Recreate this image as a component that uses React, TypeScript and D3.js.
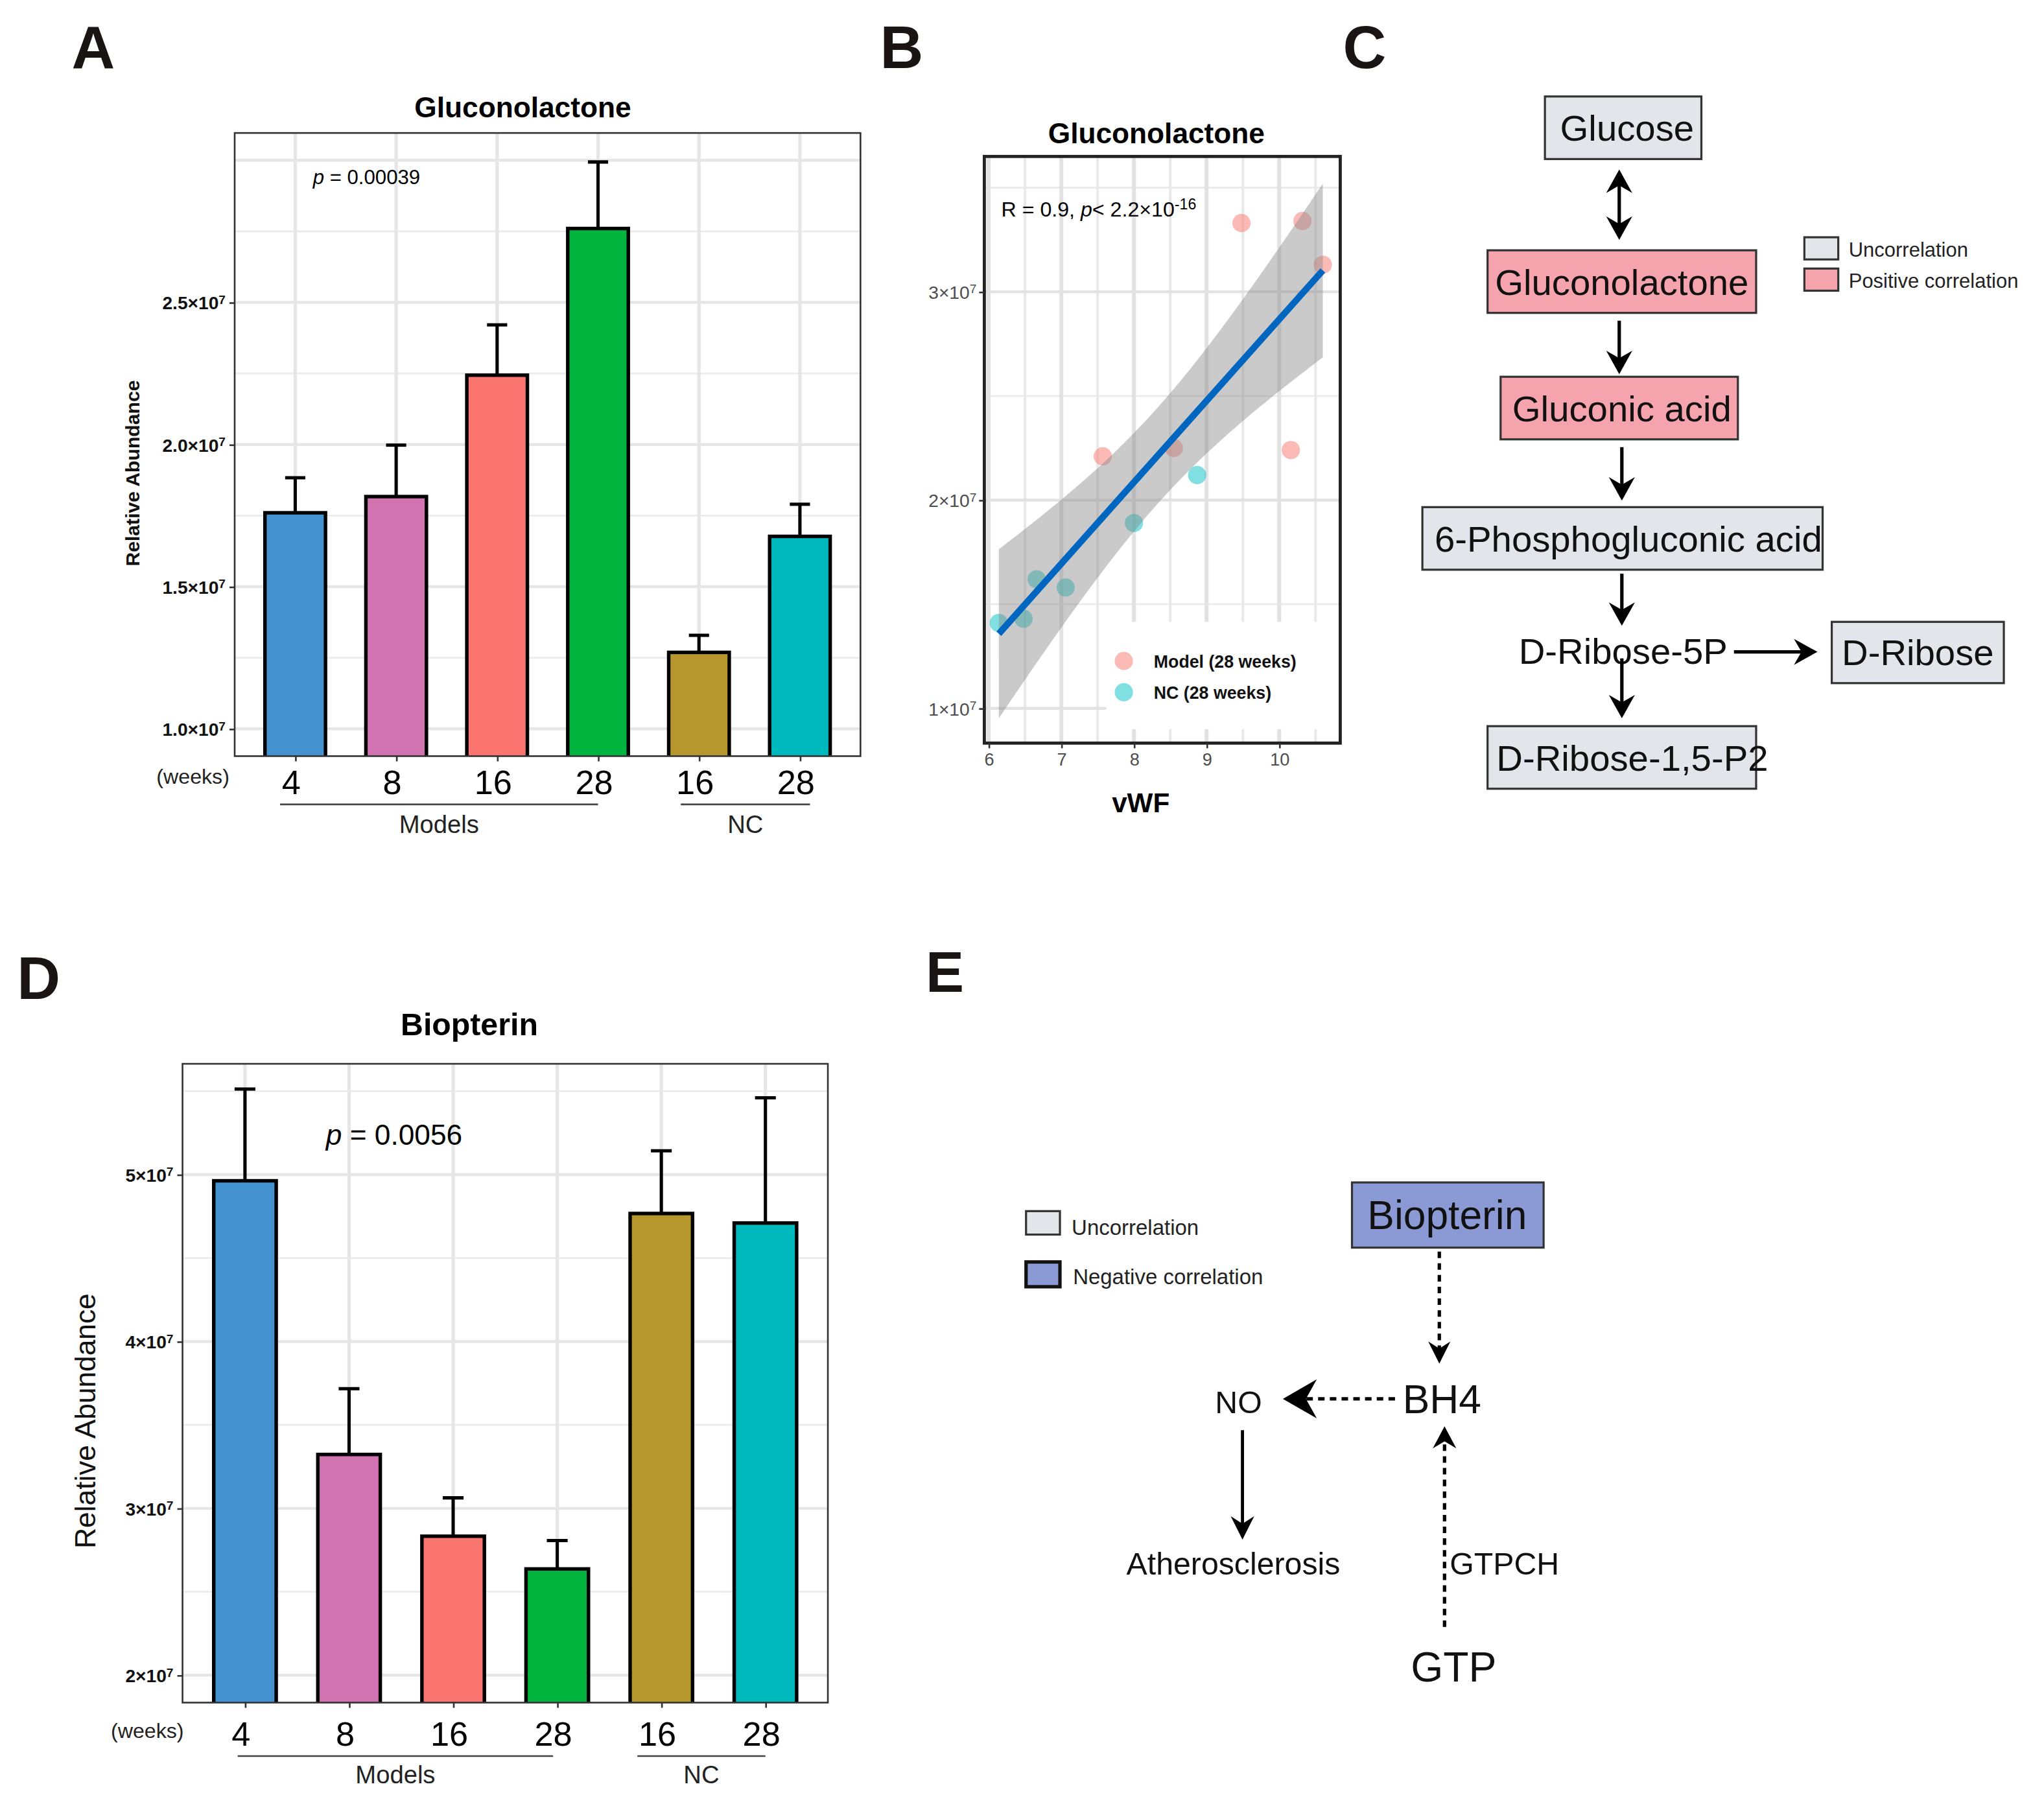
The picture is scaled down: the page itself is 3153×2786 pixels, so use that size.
import React, { useEffect, useRef } from 'react';
import * as d3 from 'd3';

// ---------- data ----------
const weekLabels = ['4', '8', '16', '28', '16', '28'];
const groups = ['Model 4w', 'Model 8w', 'Model 16w', 'Model 28w', 'NC 16w', 'NC 28w'];
const groupColors = ['#4592d0', '#d273b1', '#fa756f', '#00b43e', '#b5972e', '#00b9bd'];

const gluconolactoneMean = [1.76e7, 1.817e7, 2.244e7, 2.76e7, 1.269e7, 1.677e7];
const gluconolactoneUpper = [1.883e7, 1.998e7, 2.421e7, 2.994e7, 1.329e7, 1.79e7];
const gluconolactoneTicks = [1.0e7, 1.5e7, 2.0e7, 2.5e7];
const gluconolactoneGrid = [1.0e7, 1.5e7, 2.0e7, 2.5e7, 3.0e7];
const gluconolactoneMinor = [1.25e7, 1.75e7, 2.25e7, 2.75e7];

const biopterinMean = [4.963e7, 3.323e7, 2.833e7, 2.637e7, 4.767e7, 4.71e7];
const biopterinUpper = [5.513e7, 3.717e7, 3.063e7, 2.807e7, 5.143e7, 5.46e7];
const biopterinTicks = [2e7, 3e7, 4e7, 5e7];
const biopterinMinor = [2.5e7, 3.5e7, 4.5e7, 5.5e7];

const modelVwf = [9.48, 10.32, 10.6, 7.57, 8.55, 10.16];
const modelGluc = [3.33e7, 3.34e7, 3.13e7, 2.21e7, 2.25e7, 2.24e7];
const ncVwf = [6.14, 6.48, 6.66, 7.06, 8.0, 8.87];
const ncGluc = [1.41e7, 1.43e7, 1.62e7, 1.58e7, 1.89e7, 2.12e7];
const vwfTicks = [6, 7, 8, 9, 10];
const vwfMinor = [6.5, 7.5, 8.5, 9.5, 10.5];
const scatterYTicks = [1e7, 2e7, 3e7];
const scatterYMinor = [1.5e7, 2.5e7, 3.5e7];

const pathwayC = ['Glucose', 'Gluconolactone', 'Gluconic acid', '6-Phosphogluconic acid', 'D-Ribose-5P', 'D-Ribose', 'D-Ribose-1,5-P2'];
const pathwayCKind = ['un', 'pos', 'pos', 'un', 'none', 'un', 'un'];

// ---------- layout ----------
const VW = 1567.8;
const VH = (2786 / 3153) * VW;
const FONT = "'Liberation Sans', Arial, Helvetica, sans-serif";
const GREY_BOX = '#e3e5ea';
const PINK_BOX = '#f5a3ad';
const PURPLE_BOX = '#8b9ad4';

type Sel = d3.Selection<any, any, any, any>;

function sci(sel: Sel, v: number, digits: number) {
  sel.append('tspan').text(`${(v / 1e7).toFixed(digits)}×10`);
  sel.append('tspan').attr('dy', '-0.45em').attr('font-size', '68%').text('7');
}

function txt(g: Sel, x: number, y: number, s: string, size: number, opts: any = {}) {
  return g
    .append('text')
    .attr('x', x)
    .attr('y', y)
    .attr('font-family', FONT)
    .attr('font-size', size)
    .attr('font-weight', opts.weight ?? 'normal')
    .attr('font-style', opts.style ?? 'normal')
    .attr('text-anchor', opts.anchor ?? 'start')
    .attr('fill', opts.fill ?? '#000')
    .text(s);
}

function arrow(g: Sel, x1: number, y1: number, x2: number, y2: number, o: { L: number; W: number; dash?: string; both?: boolean; sw?: number }) {
  const ang = Math.atan2(y2 - y1, x2 - x1);
  const head = (tx: number, ty: number, a: number) => {
    const c = Math.cos(a);
    const s = Math.sin(a);
    const pt = (u: number, v: number) => [tx + u * c - v * s, ty + u * s + v * c];
    const p = [pt(0, 0), pt(-o.L, o.W / 2), pt(-o.L * 0.68, 0), pt(-o.L, -o.W / 2)];
    g.append('path').attr('d', 'M' + p.map((q) => q.join(',')).join('L') + 'Z').attr('fill', '#000');
  };
  const back = o.L * 0.6;
  const sx = o.both ? x1 + Math.cos(ang) * back : x1;
  const sy = o.both ? y1 + Math.sin(ang) * back : y1;
  g.append('line')
    .attr('x1', sx)
    .attr('y1', sy)
    .attr('x2', x2 - Math.cos(ang) * back)
    .attr('y2', y2 - Math.sin(ang) * back)
    .attr('stroke', '#000')
    .attr('stroke-width', o.sw ?? 2.4)
    .attr('stroke-dasharray', o.dash ?? null);
  head(x2, y2, ang);
  if (o.both) head(x1, y1, ang + Math.PI);
}

interface BarCfg {
  id: string;
  box: [number, number, number, number];
  domain: [number, number];
  ticks: number[];
  grid: number[];
  minor: number[];
  digits: number;
  tickFont: number;
  mean: number[];
  upper: number[];
  title: string;
  titleXY: [number, number];
  titleSize: number;
  pValue: string;
  pXY: [number, number];
  pSize: number;
  ylab: { x: number; y: number; size: number; weight: string };
  weeksY: number;
  unitXY: [number, number];
  lineY: number;
  models: [number, number];
  nc: [number, number];
  groupY: number;
}

function drawBarPanel(svg: Sel, c: BarCfg) {
  const [x0, y0, x1, y1] = c.box;
  const x = d3.scalePoint<string>().domain(groups).range([x0, x1]).padding(0.6);
  const y = d3.scaleLinear().domain(c.domain).range([y1, y0]);
  const step = x.step();
  const g = svg.append('g');

  g.append('clipPath').attr('id', c.id).append('rect').attr('x', x0).attr('y', y0).attr('width', x1 - x0).attr('height', y1 - y0);
  const inner = g.append('g').attr('clip-path', `url(#${c.id})`);

  inner.selectAll('.mn').data(c.minor).join('line')
    .attr('x1', x0).attr('x2', x1).attr('y1', (d) => y(d)).attr('y2', (d) => y(d))
    .attr('stroke', '#ebebeb').attr('stroke-width', 1.3);
  inner.selectAll('.mj').data(c.grid).join('line')
    .attr('x1', x0).attr('x2', x1).attr('y1', (d) => y(d)).attr('y2', (d) => y(d))
    .attr('stroke', '#e6e6e6').attr('stroke-width', 2.2);
  inner.selectAll('.vg').data(groups).join('line')
    .attr('x1', (d) => x(d)!).attr('x2', (d) => x(d)!).attr('y1', y0).attr('y2', y1)
    .attr('stroke', '#e6e6e6').attr('stroke-width', 2.6);

  const data = groups.map((k, i) => ({ k, m: c.mean[i], u: c.upper[i], col: groupColors[i] }));
  const eb = inner.selectAll('.eb').data(data).join('g');
  eb.append('line')
    .attr('x1', (d) => x(d.k)!).attr('x2', (d) => x(d.k)!)
    .attr('y1', (d) => y(d.m)).attr('y2', (d) => y(d.u))
    .attr('stroke', '#000').attr('stroke-width', 2.5);
  eb.append('line')
    .attr('x1', (d) => x(d.k)! - 0.1 * step).attr('x2', (d) => x(d.k)! + 0.1 * step)
    .attr('y1', (d) => y(d.u)).attr('y2', (d) => y(d.u))
    .attr('stroke', '#000').attr('stroke-width', 2.5);
  inner.selectAll('.bar').data(data).join('rect')
    .attr('x', (d) => x(d.k)! - 0.3 * step)
    .attr('width', 0.6 * step)
    .attr('y', (d) => y(d.m))
    .attr('height', (d) => y1 - y(d.m) + 6)
    .attr('fill', (d) => d.col)
    .attr('stroke', '#000')
    .attr('stroke-width', 2.7);

  g.append('rect').attr('x', x0).attr('y', y0).attr('width', x1 - x0).attr('height', y1 - y0)
    .attr('fill', 'none').attr('stroke', '#333').attr('stroke-width', 1.3);

  const ya = g.append('g').attr('transform', `translate(${x0},0)`)
    .call(d3.axisLeft(y).tickValues(c.ticks).tickSize(4).tickFormat(() => '') as any);
  ya.select('.domain').remove();
  ya.selectAll('.tick line').attr('stroke', '#333').attr('stroke-width', 1.3);
  ya.selectAll('.tick').append('text')
    .attr('x', -7).attr('dy', '0.35em').attr('text-anchor', 'end')
    .attr('font-family', FONT).attr('font-size', c.tickFont).attr('font-weight', 'bold').attr('fill', '#111')
    .each(function (d: any) { sci(d3.select(this), d, c.digits); });

  const xa = g.append('g').attr('transform', `translate(0,${y1})`)
    .call(d3.axisBottom(x).tickSize(4).tickFormat(() => '') as any);
  xa.select('.domain').remove();
  xa.selectAll('.tick line').attr('stroke', '#333').attr('stroke-width', 1.3);

  groups.forEach((k, i) => txt(g, x(k)! - 3, c.weeksY, weekLabels[i], 26, { anchor: 'middle' }));
  txt(g, c.unitXY[0], c.unitXY[1], '(weeks)', 16, { anchor: 'middle', fill: '#222' });

  const mA = x(groups[0])! + c.models[0] * step;
  const mB = x(groups[3])! + c.models[1] * step;
  const nA = x(groups[4])! + c.nc[0] * step;
  const nB = x(groups[5])! + c.nc[1] * step;
  g.append('line').attr('x1', mA).attr('x2', mB).attr('y1', c.lineY).attr('y2', c.lineY).attr('stroke', '#444').attr('stroke-width', 1.3);
  g.append('line').attr('x1', nA).attr('x2', nB).attr('y1', c.lineY).attr('y2', c.lineY).attr('stroke', '#444').attr('stroke-width', 1.3);
  txt(g, (mA + mB) / 2, c.groupY, 'Models', 19, { anchor: 'middle', fill: '#222' });
  txt(g, (nA + nB) / 2, c.groupY, 'NC', 19, { anchor: 'middle', fill: '#222' });

  txt(g, c.titleXY[0], c.titleXY[1], c.title, c.titleSize, { anchor: 'middle', weight: 'bold' });
  const p = txt(g, c.pXY[0], c.pXY[1], '', c.pSize, {});
  p.append('tspan').attr('font-style', 'italic').text('p');
  p.append('tspan').text(` = ${c.pValue}`);

  g.append('text')
    .attr('transform', `translate(${c.ylab.x},${c.ylab.y}) rotate(-90)`)
    .attr('text-anchor', 'middle')
    .attr('font-family', FONT)
    .attr('font-size', c.ylab.size)
    .attr('font-weight', c.ylab.weight)
    .attr('fill', '#111')
    .text('Relative Abundance');
}

function drawScatter(svg: Sel) {
  const [x0, y0, x1, y1] = [755, 120, 1028, 570];
  const x = d3.scaleLinear().domain([5.94, 10.84]).range([x0, x1]);
  const y = d3.scaleLinear().domain([0.833e7, 3.65e7]).range([y1, y0]);
  const g = svg.append('g');
  g.append('clipPath').attr('id', 'clipB').append('rect').attr('x', x0).attr('y', y0).attr('width', x1 - x0).attr('height', y1 - y0);
  const inner = g.append('g').attr('clip-path', 'url(#clipB)');

  inner.selectAll('.hx').data(scatterYMinor).join('line')
    .attr('x1', x0).attr('x2', x1).attr('y1', (d) => y(d)).attr('y2', (d) => y(d)).attr('stroke', '#ebebeb').attr('stroke-width', 1.4);
  inner.selectAll('.vx').data(vwfMinor).join('line')
    .attr('y1', y0).attr('y2', y1).attr('x1', (d) => x(d)).attr('x2', (d) => x(d)).attr('stroke', '#e8e8e8').attr('stroke-width', 2);
  inner.selectAll('.hj').data(scatterYTicks).join('line')
    .attr('x1', x0).attr('x2', x1).attr('y1', (d) => y(d)).attr('y2', (d) => y(d)).attr('stroke', '#e2e2e2').attr('stroke-width', 2.2);
  inner.selectAll('.vj').data(vwfTicks).join('line')
    .attr('y1', y0).attr('y2', y1).attr('x1', (d) => x(d)).attr('x2', (d) => x(d)).attr('stroke', '#e2e2e2').attr('stroke-width', 3);

  // legend background (ggplot's inside legend hides the grid under it)
  inner.append('rect').attr('x', x(7.62)).attr('y', y(1.415e7)).attr('width', x1 - x(7.62)).attr('height', y(0.9e7) - y(1.415e7)).attr('fill', '#fff');

  const model = modelVwf.map((v, i) => ({ x: v, y: modelGluc[i] }));
  const nc = ncVwf.map((v, i) => ({ x: v, y: ncGluc[i] }));
  const all = [...model, ...nc];

  inner.selectAll('.pm').data(model).join('circle')
    .attr('cx', (d) => x(d.x)).attr('cy', (d) => y(d.y)).attr('r', 7).attr('fill', '#f8766d').attr('fill-opacity', 0.5);
  inner.selectAll('.pn').data(nc).join('circle')
    .attr('cx', (d) => x(d.x)).attr('cy', (d) => y(d.y)).attr('r', 7).attr('fill', '#00bfc4').attr('fill-opacity', 0.5);

  // linear fit with 95% confidence band
  const n = all.length;
  const mx = d3.mean(all, (d) => d.x)!;
  const my = d3.mean(all, (d) => d.y)!;
  const sxx = d3.sum(all, (d) => (d.x - mx) ** 2);
  const sxy = d3.sum(all, (d) => (d.x - mx) * (d.y - my));
  const b = sxy / sxx;
  const a = my - b * mx;
  const sse = d3.sum(all, (d) => (d.y - a - b * d.x) ** 2);
  const s = Math.sqrt(sse / (n - 2));
  const tcrit = 2.228; // t(0.975, df = 10)
  const [xmin, xmax] = d3.extent(all, (d) => d.x) as [number, number];
  const xs = d3.range(0, 81).map((i) => xmin + ((xmax - xmin) * i) / 80);
  const half = (v: number) => tcrit * s * Math.sqrt(1 / n + (v - mx) ** 2 / sxx);
  inner.append('path').datum(xs)
    .attr('d', d3.area<number>().x((v) => x(v)).y0((v) => y(a + b * v - half(v))).y1((v) => y(a + b * v + half(v))) as any)
    .attr('fill', '#8a8a8a').attr('fill-opacity', 0.45);
  inner.append('line')
    .attr('x1', x(xmin)).attr('y1', y(a + b * xmin)).attr('x2', x(xmax)).attr('y2', y(a + b * xmax))
    .attr('stroke', '#0066bf').attr('stroke-width', 5);

  g.append('rect').attr('x', x0).attr('y', y0).attr('width', x1 - x0).attr('height', y1 - y0)
    .attr('fill', 'none').attr('stroke', '#222').attr('stroke-width', 2.4);

  const ya = g.append('g').attr('transform', `translate(${x0},0)`)
    .call(d3.axisLeft(y).tickValues(scatterYTicks).tickSize(4).tickFormat(() => '') as any);
  ya.select('.domain').remove();
  ya.selectAll('.tick line').attr('stroke', '#333').attr('stroke-width', 1.3);
  ya.selectAll('.tick').append('text')
    .attr('x', -6).attr('dy', '0.35em').attr('text-anchor', 'end')
    .attr('font-family', FONT).attr('font-size', 14).attr('fill', '#4d4d4d')
    .each(function (d: any) { sci(d3.select(this), d, 0); });

  const xa = g.append('g').attr('transform', `translate(0,${y1})`)
    .call(d3.axisBottom(x).tickValues(vwfTicks).tickSize(4).tickFormat(() => '') as any);
  xa.select('.domain').remove();
  xa.selectAll('.tick line').attr('stroke', '#333').attr('stroke-width', 1.3);
  xa.selectAll('.tick').append('text')
    .attr('y', 17).attr('text-anchor', 'middle')
    .attr('font-family', FONT).attr('font-size', 13.5).attr('fill', '#4d4d4d')
    .text((d: any) => String(d));

  txt(g, 887, 110, 'Gluconolactone', 22, { anchor: 'middle', weight: 'bold' });
  txt(g, 875, 623, 'vWF', 21, { anchor: 'middle', weight: 'bold' });

  const r = txt(g, 768, 166, '', 16, {});
  r.append('tspan').text('R = 0.9, ');
  r.append('tspan').attr('font-style', 'italic').text('p');
  r.append('tspan').text('< 2.2×10');
  r.append('tspan').attr('dy', '-0.45em').attr('font-size', '72%').text('-16');

  g.append('circle').attr('cx', 862).attr('cy', 507).attr('r', 7).attr('fill', '#f8766d').attr('fill-opacity', 0.5);
  g.append('circle').attr('cx', 862).attr('cy', 531).attr('r', 7).attr('fill', '#00bfc4').attr('fill-opacity', 0.5);
  txt(g, 885, 512, 'Model (28 weeks)', 13.3, { weight: 'bold', fill: '#111' });
  txt(g, 885, 536, 'NC (28 weeks)', 13.3, { weight: 'bold', fill: '#111' });
}

function drawPathwayC(svg: Sel) {
  const g = svg.append('g');
  const boxes: ([number, number, number, number] | null)[] = [
    [1185, 74, 120, 48],
    [1141, 192, 206, 48],
    [1151, 289, 182, 48],
    [1091, 389, 307, 48],
    null,
    [1405, 477, 132, 47],
    [1141, 557, 206, 48],
  ];
  const textPos: [number, number][] = [
    [1248, 108], [1244, 226], [1244, 323], [1249, 423], [1245, 509], [1471, 510], [1252, 591],
  ];
  pathwayC.forEach((label, i) => {
    const bx = boxes[i];
    if (bx) {
      g.append('rect').attr('x', bx[0]).attr('y', bx[1]).attr('width', bx[2]).attr('height', bx[3])
        .attr('fill', pathwayCKind[i] === 'pos' ? PINK_BOX : GREY_BOX)
        .attr('stroke', '#333').attr('stroke-width', 1.6);
    }
    txt(g, textPos[i][0], textPos[i][1], label, 28, { anchor: 'middle', fill: '#111' });
  });
  arrow(g, 1242, 130, 1242, 184, { L: 18, W: 20, both: true, sw: 2.6 });
  arrow(g, 1242, 246, 1242, 287, { L: 18, W: 20, sw: 2.6 });
  arrow(g, 1244, 343, 1244, 384, { L: 18, W: 20, sw: 2.6 });
  arrow(g, 1244, 440, 1244, 480, { L: 18, W: 20, sw: 2.6 });
  arrow(g, 1330, 500, 1394, 500, { L: 18, W: 20, sw: 2.6 });
  arrow(g, 1244, 505, 1244, 551, { L: 18, W: 20, sw: 2.6 });

  g.append('rect').attr('x', 1384).attr('y', 182).attr('width', 26).attr('height', 17).attr('fill', GREY_BOX).attr('stroke', '#333').attr('stroke-width', 1.6);
  g.append('rect').attr('x', 1384).attr('y', 206).attr('width', 26).attr('height', 17).attr('fill', PINK_BOX).attr('stroke', '#333').attr('stroke-width', 1.6);
  txt(g, 1418, 197, 'Uncorrelation', 15.4, { fill: '#222' });
  txt(g, 1418, 221, 'Positive correlation', 15.4, { fill: '#222' });
}

function drawPathwayE(svg: Sel) {
  const g = svg.append('g');
  g.append('rect').attr('x', 787).attr('y', 929).attr('width', 26).attr('height', 18).attr('fill', GREY_BOX).attr('stroke', '#333').attr('stroke-width', 1.6);
  g.append('rect').attr('x', 787).attr('y', 968).attr('width', 26).attr('height', 19).attr('fill', PURPLE_BOX).attr('stroke', '#111').attr('stroke-width', 2.6);
  txt(g, 822, 947, 'Uncorrelation', 16.4, { fill: '#222' });
  txt(g, 823, 985, 'Negative correlation', 16.4, { fill: '#222' });

  g.append('rect').attr('x', 1037).attr('y', 907).attr('width', 147).attr('height', 50).attr('fill', PURPLE_BOX).attr('stroke', '#333').attr('stroke-width', 1.6);
  txt(g, 1110, 943, 'Biopterin', 31, { anchor: 'middle', fill: '#111' });
  txt(g, 1106, 1084, 'BH4', 31, { anchor: 'middle', fill: '#111' });
  txt(g, 950, 1084, 'NO', 24, { anchor: 'middle', fill: '#111' });
  txt(g, 946, 1208, 'Atherosclerosis', 24, { anchor: 'middle', fill: '#111' });
  txt(g, 1112, 1208, 'GTPCH', 24, { fill: '#111' });
  txt(g, 1115, 1290, 'GTP', 32, { anchor: 'middle', fill: '#111' });

  arrow(g, 1104, 960, 1104, 1046, { L: 17, W: 17, dash: '5,4', sw: 2.6 });
  arrow(g, 1070, 1073, 984, 1073, { L: 26, W: 30, dash: '5,4', sw: 2.6 });
  arrow(g, 1108, 1248, 1108, 1094, { L: 17, W: 18, dash: '5,4', sw: 2.6 });
  arrow(g, 953, 1097, 953, 1181, { L: 18, W: 18, sw: 2.4 });
}

function drawAll(svg: Sel) {
  svg.append('rect').attr('width', VW).attr('height', VH).attr('fill', '#fff');

  const letters: [string, number, number, number][] = [
    ['A', 55, 52, 46], ['B', 675, 52, 46], ['C', 1030, 52, 46], ['D', 13, 766, 46], ['E', 710, 761, 44],
  ];
  letters.forEach(([l, x, y, s]) => txt(svg, x, y, l, s, { weight: 'bold', fill: '#1a1514' }));

  drawBarPanel(svg, {
    id: 'clipA',
    box: [180, 102, 660, 580],
    domain: [0.904e7, 3.096e7],
    ticks: gluconolactoneTicks,
    grid: gluconolactoneGrid,
    minor: gluconolactoneMinor,
    digits: 1,
    tickFont: 14,
    mean: gluconolactoneMean,
    upper: gluconolactoneUpper,
    title: 'Gluconolactone',
    titleXY: [401, 90],
    titleSize: 22,
    pValue: '0.00039',
    pXY: [240, 141],
    pSize: 15.5,
    ylab: { x: 107, y: 363, size: 15, weight: 'bold' },
    weeksY: 609,
    unitXY: [148, 601],
    lineY: 617,
    models: [-0.15, 0],
    nc: [-0.18, 0.1],
    groupY: 639,
  });

  drawBarPanel(svg, {
    id: 'clipD',
    box: [140, 816, 635, 1306],
    domain: [1.836e7, 5.664e7],
    ticks: biopterinTicks,
    grid: biopterinTicks,
    minor: biopterinMinor,
    digits: 0,
    tickFont: 14,
    mean: biopterinMean,
    upper: biopterinUpper,
    title: 'Biopterin',
    titleXY: [360, 794],
    titleSize: 24,
    pValue: '0.0056',
    pXY: [250, 878],
    pSize: 22,
    ylab: { x: 73, y: 1090, size: 22, weight: 'normal' },
    weeksY: 1339,
    unitXY: [113, 1333],
    lineY: 1347,
    models: [-0.07, -0.04],
    nc: [-0.23, 0],
    groupY: 1368,
  });

  drawScatter(svg);
  drawPathwayC(svg);
  drawPathwayE(svg);
}

export default function App() {
  const ref = useRef<SVGSVGElement>(null);
  useEffect(() => {
    document.body.style.margin = '0';
    const svg = d3.select(ref.current!);
    svg.selectAll('*').remove();
    drawAll(svg);
  }, []);
  return (
    <svg
      ref={ref}
      width={3153}
      height={2786}
      viewBox={`0 0 ${VW} ${VH}`}
      style={{ display: 'block', background: '#fff' }}
    />
  );
}
